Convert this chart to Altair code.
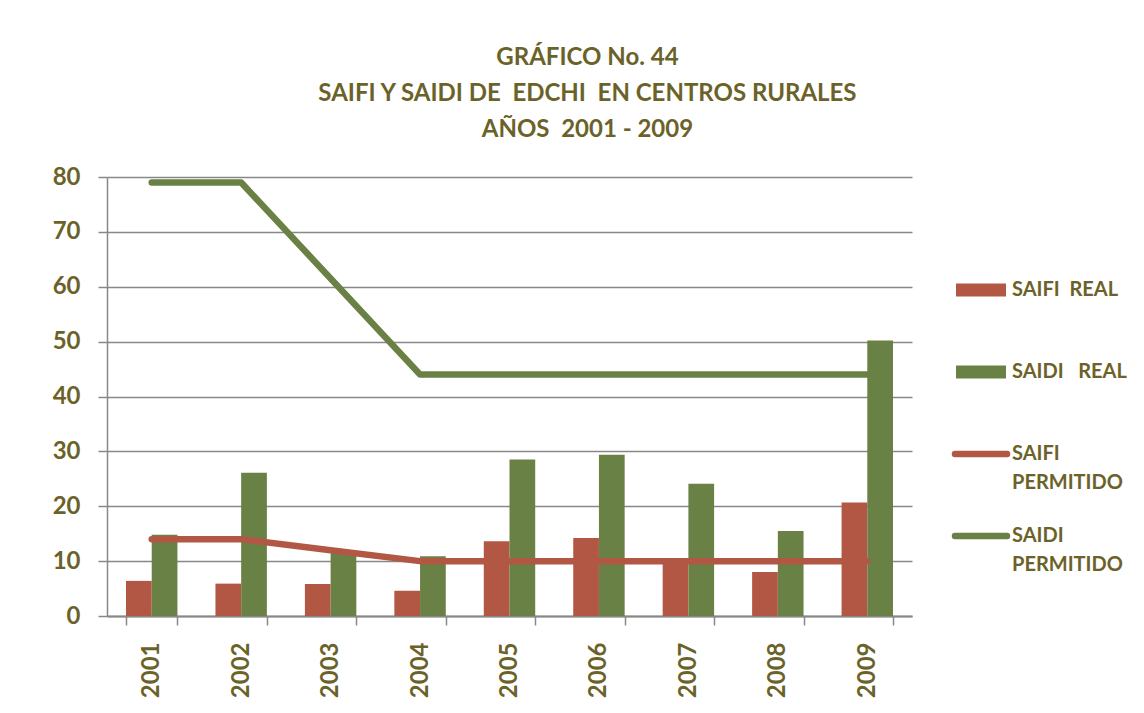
import altair as alt
import pandas as pd

years = ["2001", "2002", "2003", "2004", "2005", "2006", "2007", "2008", "2009"]
saifi_real = [6.4, 5.9, 5.85, 4.6, 13.6, 14.2, 10.5, 8.0, 20.7]
saidi_real = [14.8, 26.1, 11.8, 10.9, 28.5, 29.4, 24.1, 15.5, 50.2]
saifi_permitido = [14, 14, 12, 10, 10, 10, 10, 10, 10]
saidi_permitido = [79, 79, 61.5, 44, 44, 44, 44, 44, 44]

series_names = ["SAIFI REAL", "SAIDI REAL", "SAIFI PERMITIDO", "SAIDI PERMITIDO"]
legend_line1 = ["SAIFI\u00a0\u00a0REAL", "SAIDI\u00a0\u00a0\u00a0REAL", "SAIFI", "SAIDI"]
legend_line2 = ["", "", "PERMITIDO", "PERMITIDO"]
legend_kind = ["bar", "bar", "line", "line"]

title_lines = [
    "GRÁFICO No. 44",
    "SAIFI Y SAIDI DE\u00a0\u00a0EDCHI\u00a0\u00a0EN CENTROS RURALES",
    "AÑOS\u00a0\u00a02001 - 2009",
]

RED = "#B35745"
GREEN = "#6A8146"
TEXT = "#6B6229"
GRID = "#888888"
FONT = "Lato"

bars_df = pd.DataFrame({
    "year": years * 2,
    "series": [series_names[0]] * len(years) + [series_names[1]] * len(years),
    "value": saifi_real + saidi_real,
})
lines_df = pd.DataFrame({
    "year": years * 2,
    "series": [series_names[2]] * len(years) + [series_names[3]] * len(years),
    "value": saifi_permitido + saidi_permitido,
})
legend_df = pd.DataFrame({
    "series": series_names,
    "l1": legend_line1,
    "l2": legend_line2,
    "kind": legend_kind,
})

color_scale = alt.Scale(domain=series_names, range=[RED, GREEN, RED, GREEN])

x_enc = alt.X(
    "year:N",
    sort=years,
    scale=alt.Scale(paddingInner=0.425, paddingOuter=0.2125),
    axis=alt.Axis(
        title=None, labelAngle=-90, tickBand="extent", tickSize=9,
        tickColor=GRID, tickWidth=1.5, domainColor=GRID, domainWidth=2,
        labelFont=FONT, labelFontSize=24, labelFontWeight="bold",
        labelColor=TEXT, labelPadding=17, grid=False,
    ),
)
y_enc = alt.Y(
    "value:Q",
    scale=alt.Scale(domain=[0, 80], nice=False),
    axis=alt.Axis(
        title=None, values=list(range(0, 90, 10)), grid=True,
        gridColor=GRID, gridWidth=1.5, domainColor=GRID, domainWidth=1.5,
        tickColor=GRID, tickWidth=1.5, tickSize=9, labelPadding=18,
        labelFont=FONT, labelFontSize=24, labelFontWeight="bold",
        labelColor=TEXT, minExtent=99, maxExtent=99,
    ),
)

bars = alt.Chart(bars_df).mark_bar().encode(
    x=x_enc,
    xOffset=alt.XOffset("series:N", sort=series_names[:2],
                        scale=alt.Scale(domain=series_names[:2], paddingInner=0)),
    y=y_enc,
    color=alt.Color("series:N", scale=color_scale, legend=None),
)

lines = alt.Chart(lines_df).mark_line(
    strokeWidth=6.5, strokeCap="round", strokeJoin="round"
).encode(
    x=alt.X("year:N", sort=years),
    y=alt.Y("value:Q"),
    color=alt.Color("series:N", scale=color_scale, legend=None),
    detail="series:N",
)

main = alt.layer(bars, lines).properties(width=805, height=439)

leg_y = alt.Y("series:N", sort=series_names, axis=None,
              scale=alt.Scale(type="point", domain=series_names,
                              range=[113, 359], padding=0))
leg_base = alt.Chart(legend_df)
leg_rect = leg_base.transform_filter(alt.datum.kind == "bar").mark_rule(
    strokeWidth=13, strokeCap="butt"
).encode(
    x=alt.value(0), x2=alt.value(50), y=leg_y,
    color=alt.Color("series:N", scale=color_scale, legend=None),
)
leg_line = leg_base.transform_filter(alt.datum.kind == "line").mark_rule(
    strokeWidth=6.5, strokeCap="round"
).encode(
    x=alt.value(-1), x2=alt.value(51), y=leg_y,
    color=alt.Color("series:N", scale=color_scale, legend=None),
)
leg_text1 = leg_base.mark_text(
    align="left", baseline="middle", font=FONT, fontSize=20,
    fontWeight="bold", color=TEXT,
).encode(x=alt.value(56), y=leg_y, text="l1:N")
leg_text2 = leg_base.mark_text(
    align="left", baseline="middle", font=FONT, fontSize=20,
    fontWeight="bold", color=TEXT, dy=29,
).encode(x=alt.value(56), y=leg_y, text="l2:N")

legend = alt.layer(leg_rect, leg_line, leg_text1, leg_text2).properties(
    width=170, height=439
)

chart = alt.hconcat(main, legend, spacing=37).properties(
    title=alt.TitleParams(
        text=title_lines, fontSize=24, fontWeight="bold", color=TEXT,
        font=FONT, lineHeight=36, anchor="middle", dx=20, offset=23,
    ),
    padding={"left": 0, "top": 38, "right": 0, "bottom": 0},
    background="white",
).configure_view(stroke="transparent", strokeWidth=0)

chart.save("out.html", embed_options={"renderer": "svg", "actions": False})
